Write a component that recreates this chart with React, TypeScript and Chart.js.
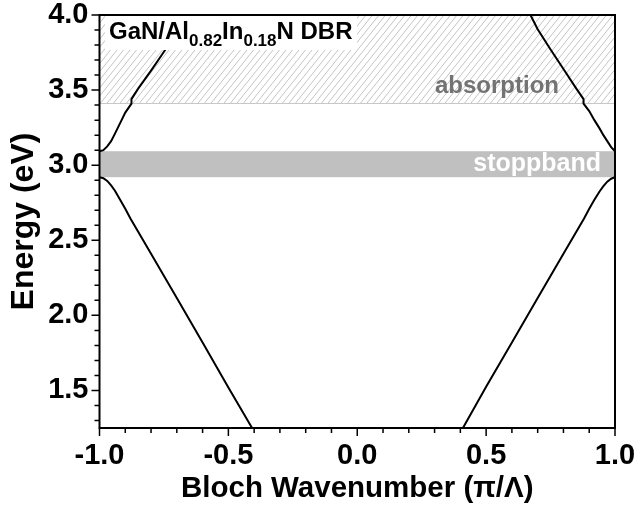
import { useEffect, useRef } from 'react';
import { Chart, registerables } from 'chart.js';

Chart.register(...registerables);

// Photonic band diagram of a GaN/AlInN Bragg reflector (first Brillouin zone)
const FONT = '"Liberation Sans", Arial, Helvetica, sans-serif';

// Lower band, left branch (Bloch wavenumber in π/Λ, energy in eV)
const LOWER_LEFT_K = [-1.0, -0.985, -0.97, -0.955, -0.94, -0.92, -0.9, -0.88, -0.8, -0.7, -0.6, -0.5, -0.408];
const LOWER_LEFT_E = [2.92, 2.913, 2.895, 2.865, 2.83, 2.77, 2.71, 2.645, 2.41, 2.115, 1.82, 1.52, 1.25];

// Lower band, right branch
const LOWER_RIGHT_K = [0.41, 0.5, 0.6, 0.7, 0.8, 0.88, 0.9, 0.92, 0.94, 0.955, 0.97, 0.985, 1.0];
const LOWER_RIGHT_E = [1.25, 1.525, 1.82, 2.115, 2.41, 2.645, 2.71, 2.77, 2.825, 2.86, 2.89, 2.91, 2.92];

// Upper band, left branch (small step where it enters the absorption range)
const UPPER_LEFT_K = [-1.0, -0.985, -0.97, -0.955, -0.94, -0.92, -0.9, -0.876, -0.876, -0.85, -0.8, -0.75, -0.7, -0.66];
const UPPER_LEFT_E = [3.093, 3.1, 3.125, 3.16, 3.21, 3.28, 3.35, 3.41, 3.44, 3.51, 3.63, 3.755, 3.88, 4.0];

// Upper band, right branch
const UPPER_RIGHT_K = [0.672, 0.7, 0.75, 0.8, 0.85, 0.878, 0.878, 0.9, 0.92, 0.94, 0.955, 0.97, 0.985, 1.0];
const UPPER_RIGHT_E = [4.0, 3.905, 3.77, 3.64, 3.51, 3.44, 3.41, 3.36, 3.3, 3.245, 3.2, 3.16, 3.12, 3.093];

// Energy ranges
const STOPBAND = [2.92, 3.093];
const ABSORPTION = [3.413, 4.0];

// Axes
const X_RANGE = [-1, 1];
const Y_RANGE = [1.25, 4.0];
const X_TICKS = [-1.0, -0.5, 0.0, 0.5, 1.0];
const Y_TICKS = [1.5, 2.0, 2.5, 3.0, 3.5, 4.0];
const MINOR_STEP = 0.1;

const toPoints = (ks: number[], es: number[]) => ks.map((k, i) => ({ x: k, y: es[i] }));

// keep tick-label overhang from shrinking the plot area
const noOverhang = (s: any) => {
  s.paddingLeft = 0;
  s.paddingRight = 0;
  s.paddingTop = 0;
  s.paddingBottom = 0;
};

const bandsPlugin = {
  id: 'bandRegions',
  beforeDatasetsDraw(chart: any) {
    const { ctx, chartArea: a, scales } = chart;
    const y = scales.y;
    // stop band
    const sTop = y.getPixelForValue(STOPBAND[1]);
    const sBot = y.getPixelForValue(STOPBAND[0]);
    ctx.save();
    ctx.fillStyle = '#c0c0c0';
    ctx.fillRect(a.left, sTop, a.right - a.left, sBot - sTop);
    ctx.restore();

    // absorption range, hatched
    const hTop = y.getPixelForValue(ABSORPTION[1]);
    const hBot = y.getPixelForValue(ABSORPTION[0]);
    ctx.save();
    ctx.beginPath();
    ctx.rect(a.left, hTop, a.right - a.left, hBot - hTop);
    ctx.clip();
    ctx.strokeStyle = '#c4c4c4';
    ctx.lineWidth = 1;
    const h = hBot - hTop;
    const run = h / 1.25;
    ctx.beginPath();
    for (let x = a.left - run; x < a.right + 2; x += 6.5) {
      ctx.moveTo(x, hBot);
      ctx.lineTo(x + run, hTop);
    }
    ctx.stroke();
    ctx.restore();
    ctx.save();
    ctx.strokeStyle = '#c8c8c8';
    ctx.lineWidth = 1;
    ctx.beginPath();
    ctx.moveTo(a.left, Math.round(hBot) + 0.5);
    ctx.lineTo(a.right, Math.round(hBot) + 0.5);
    ctx.stroke();
    ctx.restore();
  },
  afterDatasetsDraw(chart: any) {
    const { ctx, chartArea: a, scales } = chart;
    const xs = scales.x;
    const ys = scales.y;

    // sample label with white background
    ctx.save();
    ctx.fillStyle = '#ffffff';
    ctx.fillRect(105, a.top + 1, 252, 34);
    ctx.fillStyle = '#000000';
    ctx.textBaseline = 'alphabetic';
    ctx.textAlign = 'left';
    const parts: [string, boolean][] = [
      ['GaN/Al', false],
      ['0.82', true],
      ['In', false],
      ['0.18', true],
      ['N DBR', false],
    ];
    let tx = 109;
    for (const [t, sub] of parts) {
      ctx.font = `bold ${sub ? 17 : 24}px ${FONT}`;
      ctx.fillText(t, tx, sub ? 45.5 : 38.5);
      tx += ctx.measureText(t).width;
    }
    ctx.restore();

    // range labels
    ctx.save();
    ctx.textAlign = 'right';
    ctx.textBaseline = 'alphabetic';
    ctx.font = `bold 24px ${FONT}`;
    ctx.fillStyle = '#737373';
    ctx.fillText('absorption', 559, 92.5);
    ctx.font = `bold 25px ${FONT}`;
    ctx.fillStyle = '#ffffff';
    ctx.fillText('stoppband', 601, 171);
    ctx.restore();

    // frame
    ctx.save();
    ctx.strokeStyle = '#000000';
    ctx.lineWidth = 2;
    ctx.strokeRect(a.left, a.top, a.right - a.left, a.bottom - a.top);

    // tick marks, pointing outward
    ctx.lineWidth = 1.5;
    ctx.beginPath();
    const nx = Math.round((X_RANGE[1] - X_RANGE[0]) / MINOR_STEP);
    for (let i = 0; i <= nx; i++) {
      const v = X_RANGE[0] + i * MINOR_STEP;
      const major = X_TICKS.some((t) => Math.abs(t - v) < 1e-6);
      const px = xs.getPixelForValue(v);
      ctx.moveTo(px, a.bottom);
      ctx.lineTo(px, a.bottom + (major ? 8 : 5));
    }
    const y0 = Math.ceil(Y_RANGE[0] / MINOR_STEP - 1e-6);
    const y1 = Math.floor(Y_RANGE[1] / MINOR_STEP + 1e-6);
    for (let i = y0; i <= y1; i++) {
      const v = i * MINOR_STEP;
      const major = Y_TICKS.some((t) => Math.abs(t - v) < 1e-6);
      const py = ys.getPixelForValue(v);
      ctx.moveTo(a.left, py);
      ctx.lineTo(a.left - (major ? 8 : 5), py);
    }
    ctx.stroke();
    ctx.restore();
  },
};

export default function App() {
  const canvasRef = useRef<HTMLCanvasElement | null>(null);

  useEffect(() => {
    const canvas = canvasRef.current;
    if (!canvas) return;
    const line = { borderColor: '#000000', borderWidth: 2, pointRadius: 0, showLine: true, tension: 0, fill: false };
    const tickFont = { family: FONT, size: 29, weight: 'bold' as const };
    const chart = new Chart(canvas, {
      type: 'scatter',
      data: {
        datasets: [
          { ...line, data: toPoints(LOWER_LEFT_K, LOWER_LEFT_E) },
          { ...line, data: toPoints(LOWER_RIGHT_K, LOWER_RIGHT_E) },
          { ...line, data: toPoints(UPPER_LEFT_K, UPPER_LEFT_E) },
          { ...line, data: toPoints(UPPER_RIGHT_K, UPPER_RIGHT_E) },
        ],
      },
      options: {
        animation: false,
        responsive: false,
        devicePixelRatio: 1,
        layout: { padding: { top: 15, right: 20, left: 0, bottom: 0 } },
        plugins: { legend: { display: false }, tooltip: { enabled: false } },
        scales: {
          x: {
            type: 'linear',
            min: X_RANGE[0],
            max: X_RANGE[1],
            afterBuildTicks: (s: any) => {
              s.ticks = X_TICKS.map((v) => ({ value: v }));
            },
            afterFit: (s: any) => {
              s.height = 78;
              noOverhang(s);
            },
            ticks: {
              autoSkip: false,
              maxRotation: 0,
              padding: 11,
              color: '#000000',
              font: tickFont,
              callback: (v: any) => Number(v).toFixed(1),
            },
            grid: { display: false, drawTicks: false },
            border: { display: false },
            title: {
              display: true,
              text: 'Bloch Wavenumber (π/Λ)',
              color: '#000000',
              font: { family: FONT, size: 29.5, weight: 'bold' as const, lineHeight: 1 },
              padding: { top: 0, bottom: 2 },
            },
          },
          y: {
            type: 'linear',
            min: Y_RANGE[0],
            max: Y_RANGE[1],
            afterBuildTicks: (s: any) => {
              s.ticks = Y_TICKS.map((v) => ({ value: v }));
            },
            afterFit: (s: any) => {
              s.width = 99.5;
              noOverhang(s);
            },
            ticks: {
              autoSkip: false,
              padding: 11,
              color: '#000000',
              font: tickFont,
              callback: (v: any) => Number(v).toFixed(1),
            },
            grid: { display: false, drawTicks: false },
            border: { display: false },
            title: {
              display: true,
              text: 'Energy (eV)',
              color: '#000000',
              font: { family: FONT, size: 32, weight: 'bold' as const, lineHeight: 1 },
              padding: { top: 8, bottom: 0 },
            },
          },
        },
      },
      plugins: [bandsPlugin],
    });
    return () => chart.destroy();
  }, []);

  return (
    <div style={{ position: 'fixed', left: 0, top: 0, width: 635, height: 506, background: '#ffffff' }}>
      <canvas ref={canvasRef} width={635} height={506} />
    </div>
  );
}
